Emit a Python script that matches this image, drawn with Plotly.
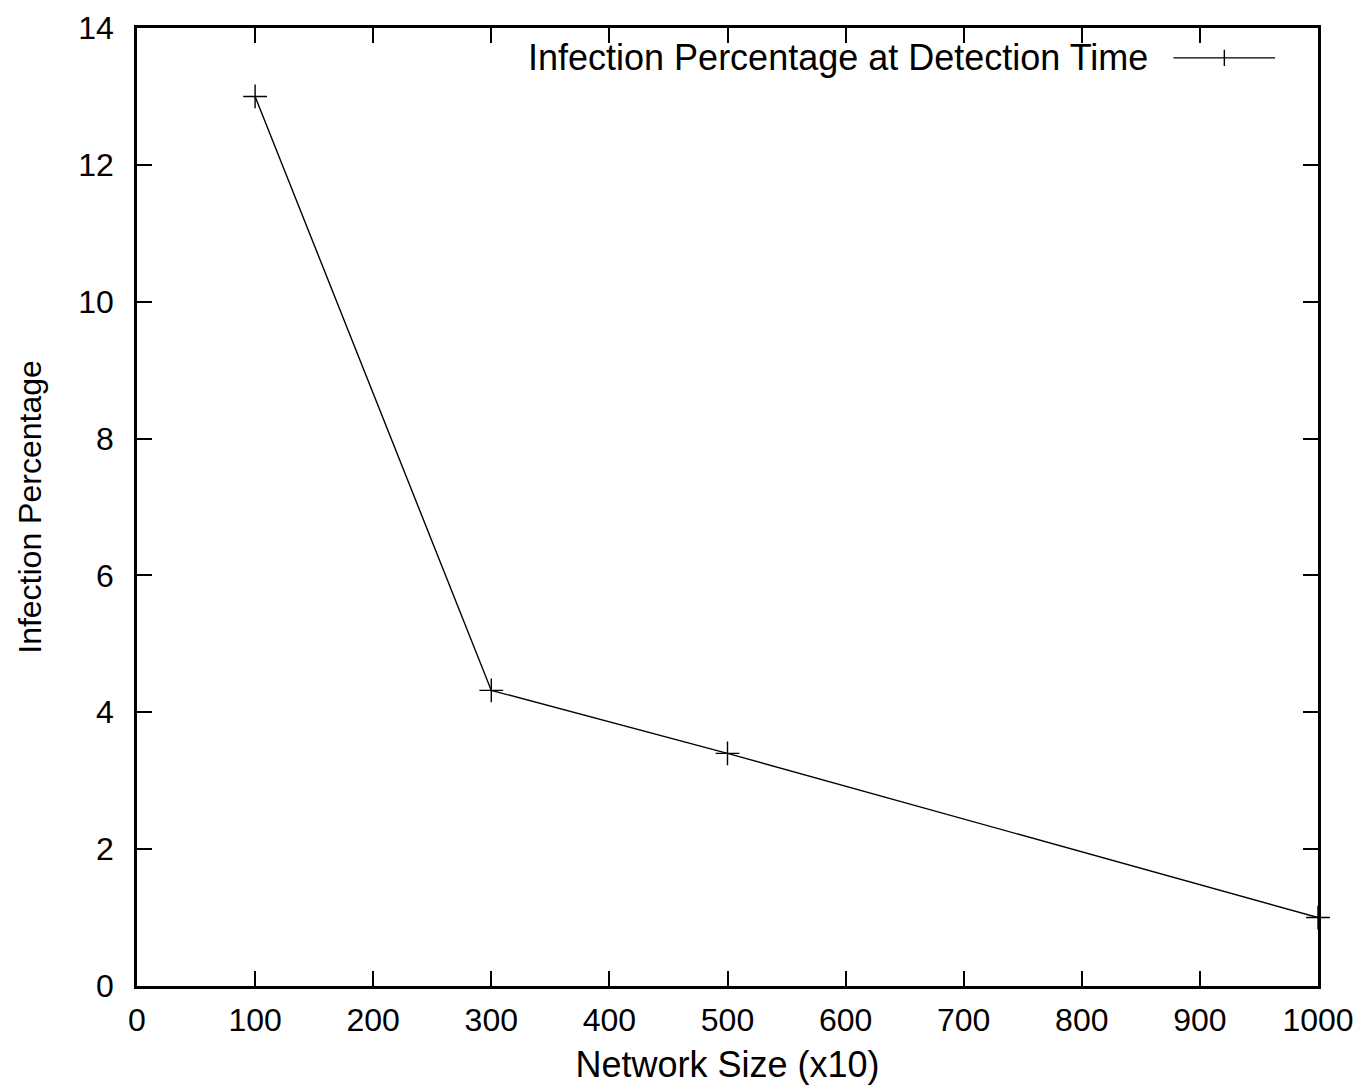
import plotly.graph_objects as go

network_size = [100, 300, 500, 1000]
infection_pct = [13.0, 4.32, 3.4, 1.0]
series_name = "Infection Percentage at Detection Time"
x_ticks = [0, 100, 200, 300, 400, 500, 600, 700, 800, 900, 1000]
y_ticks = [0, 2, 4, 6, 8, 10, 12, 14]

FONT = "Liberation Sans, Arial, Helvetica, sans-serif"

fig = go.Figure()
fig.add_trace(go.Scatter(
    x=network_size, y=infection_pct, mode="lines+markers", name=series_name,
    line=dict(color="black", width=1.4),
    marker=dict(symbol="cross-thin", size=17, line=dict(color="black", width=1.4)),
    showlegend=False, cliponaxis=False,
))

axis_common = dict(
    showgrid=False, zeroline=False, showline=True, mirror="ticks",
    linecolor="black", linewidth=2.5, ticks="inside", ticklen=15,
    tickwidth=2, tickcolor="black", automargin=False, ticklabeloverflow="allow",
    tickfont=dict(family=FONT, size=32, color="black"),
)

fig.update_xaxes(range=[0, 1000], tickvals=x_ticks, ticklabelstandoff=4,
                 title=dict(text="Network Size (x10)", font=dict(family=FONT, size=36, color="black"), standoff=20),
                 **axis_common)
fig.update_yaxes(range=[0, 14], tickvals=y_ticks, ticklabelstandoff=14,
                 title=dict(text="Infection Percentage", font=dict(family=FONT, size=32, color="black"), standoff=28),
                 **axis_common)

# gnuplot-style key: text then sample
ky = 0.9688
fig.add_annotation(x=0.858, y=ky, xref="paper", yref="paper", text=series_name,
                   showarrow=False, xanchor="right", yanchor="middle",
                   font=dict(family=FONT, size=36, color="black"))
fig.add_shape(type="line", xref="paper", yref="paper", x0=0.8776, x1=0.9637, y0=ky, y1=ky,
              line=dict(color="black", width=1.4))
fig.add_shape(type="line", xref="paper", yref="paper", x0=0.9207, x1=0.9207, y0=ky - 0.0085, y1=ky + 0.0085,
              line=dict(color="black", width=1.4))

fig.update_layout(
    width=1354, height=1077,
    margin=dict(l=129, r=44, t=20, b=99, autoexpand=False),
    paper_bgcolor="white", plot_bgcolor="white",
    font=dict(family=FONT, color="black"),
)

fig.write_html("out.html")
